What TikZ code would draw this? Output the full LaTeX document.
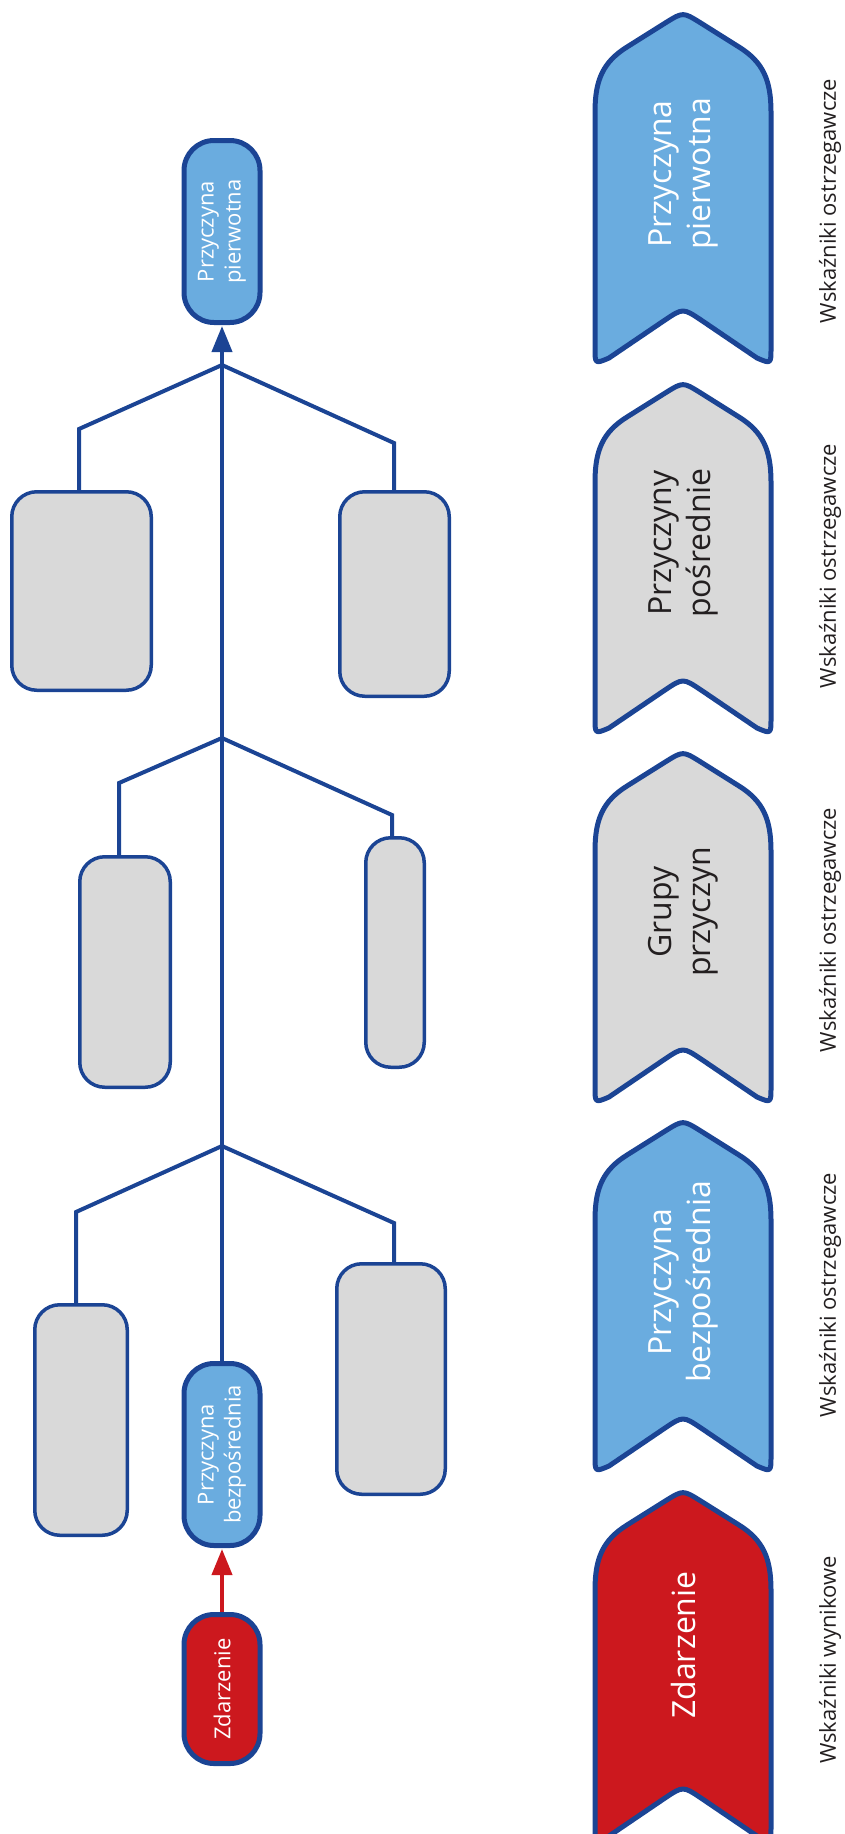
\documentclass[tikz,border=0pt]{standalone}
\usepackage{fontspec}
\setmainfont{Open Sans}
\usetikzlibrary{arrows.meta}

\definecolor{navy}{HTML}{1B4494}
\definecolor{skyfill}{HTML}{6AACDF}
\definecolor{greyfill}{HTML}{D9D9D9}
\definecolor{redfill}{HTML}{CC181E}
\definecolor{darktext}{HTML}{231F20}

\tikzset{
  % up-pointing banner with a notch at the bottom; origin at the top tip
  pics/chevron/.style={code={
    \filldraw[draw=navy, line width=5pt, fill=#1, line join=round]
      (-88,100) .. controls (-88,68) and (-80,50) .. (-56,35) -- (-17,10.5)
      .. controls (0,0) .. (17,10.5) -- (56,35)
      .. controls (80,50) and (88,68) .. (88,100) -- (88,336)
      .. controls (88,352) .. (74,346) -- (18,308)
      .. controls (0,296) .. (-18,308) -- (-74,346)
      .. controls (-88,352) .. (-88,336) -- cycle;
  }},
}

\begin{document}
\begin{tikzpicture}[x=1pt, y=-1pt,
  treeline/.style={draw=navy, line width=4pt},
  greybox/.style={draw=navy, line width=3.5pt, fill=greyfill,
    rounded corners=25pt, inner sep=0pt},
  keybox/.style={draw=navy, line width=5pt, rounded corners=30pt,
    inner sep=0pt, minimum width=76pt},
  keytext/.style={rotate=90, text=white, align=center,
    font=\fontsize{22}{27}\selectfont},
  bannertext/.style={rotate=90, align=center,
    font=\fontsize{32}{39}\selectfont},
  sidelabel/.style={rotate=90, text=darktext,
    font=\fontsize{22}{26}\selectfont},
  tip/.style={-{Triangle[width=20pt,length=26pt]}},
]
\useasboundingbox (0,0) rectangle (844,1834);

% ---------------- cause tree ----------------
\node[keybox, fill=skyfill, minimum height=182pt] (top) at (222,231.5) {};
\node[keybox, fill=skyfill, minimum height=182pt] (bezp) at (222,1454.5) {};
\node[keybox, fill=redfill, minimum height=149pt] (zd) at (222,1689) {};

\node[keytext] (top-t) at (top) {Przyczyna\\pierwotna};
\node[keytext] (bezp-t) at (bezp) {Przyczyna\\bezpośrednia};
\node[keytext] (zd-t) at (zd) {Zdarzenie};

\node[greybox, minimum width=139.5pt, minimum height=198.5pt] (L1) at (81.5,591) {};
\node[greybox, minimum width=109.5pt, minimum height=204.5pt] (R1) at (394.5,594) {};
\node[greybox, minimum width=90.5pt, minimum height=230.5pt] (L2) at (125,972) {};
\node[greybox, minimum width=58.5pt, minimum height=229.5pt] (R2) at (395,952.5) {};
\node[greybox, minimum width=92.5pt, minimum height=230.5pt] (L3) at (81,1420) {};
\node[greybox, minimum width=108.5pt, minimum height=230.5pt] (R3) at (391,1379) {};

% branching points on the spine and branch ends
\coordinate (a1) at (222,365);
\coordinate (a2) at (222,738);
\coordinate (a3) at (222,1146);
\coordinate (l1) at (79,429);
\coordinate (r1) at (394,443);
\coordinate (l2) at (119,783);
\coordinate (r2) at (392,815);
\coordinate (l3) at (76,1212);
\coordinate (r3) at (394,1223);

\draw[treeline] (l1 |- L1.north) -- (l1) -- (a1) -- (r1) -- (r1 |- R1.north);
\draw[treeline] (l2 |- L2.north) -- (l2) -- (a2) -- (r2) -- (r2 |- R2.north);
\draw[treeline] (l3 |- L3.north) -- (l3) -- (a3) -- (r3) -- (r3 |- R3.north);

\draw[treeline, tip, navy, shorten >=1pt] (bezp.north) -- (top.south);
\draw[draw=redfill, line width=4pt, tip, shorten >=1pt] (zd.north) -- (bezp.south);

% ---------------- indicator banners ----------------
\pic at (683,12) {chevron=skyfill};
\pic at (683,382) {chevron=greyfill};
\pic at (683,751) {chevron=greyfill};
\pic at (683,1120) {chevron=skyfill};
\pic at (683,1490) {chevron=redfill};

\node[bannertext, text=white] (b1) at (683,174) {Przyczyna\\pierwotna};
\node[bannertext, text=darktext] (b2) at (683,543) {Przyczyny\\pośrednie};
\node[bannertext, text=darktext] (b3) at (683,912) {Grupy\\przyczyn};
\node[bannertext, text=white] (b4) at (683,1282) {Przyczyna\\bezpośrednia};
\node[bannertext, text=white] (b5) at (683,1645) {Zdarzenie};

\node[sidelabel] (s1) at (830,201) {Wskaźniki ostrzegawcze};
\node[sidelabel] (s2) at (830,566) {Wskaźniki ostrzegawcze};
\node[sidelabel] (s3) at (830,930) {Wskaźniki ostrzegawcze};
\node[sidelabel] (s4) at (830,1295) {Wskaźniki ostrzegawcze};
\node[sidelabel] (s5) at (830,1660) {Wskaźniki wynikowe};
\end{tikzpicture}
\end{document}
